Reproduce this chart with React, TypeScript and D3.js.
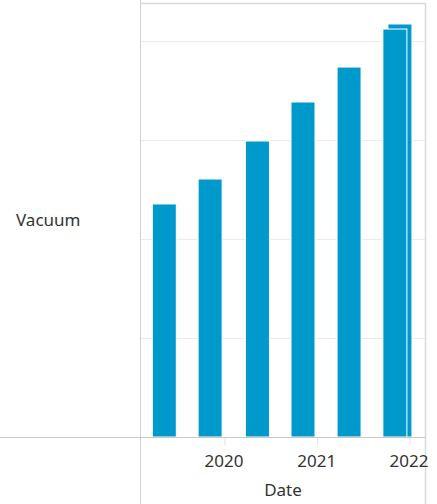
import { useEffect, useRef } from 'react';
import * as d3 from 'd3';

const dates = ['2019-05-06', '2019-11-03', '2020-05-08', '2020-11-04', '2021-05-05', '2021-11-02', '2021-11-22'];
const values = [2.354, 2.606, 2.99, 3.384, 3.737, 4.121, 4.172];
const tickYears = ['2020', '2021', '2022'];
const gridValues = [1, 2, 3, 4];
const rowLabel = 'Vacuum';
const xTitle = 'Date';

export default function App() {
  const svgRef = useRef<SVGSVGElement>(null);

  useEffect(() => {
    if (!svgRef.current) return;
    const svg = d3.select(svgRef.current);
    svg.selectAll('*').remove();

    const height = 504;
    const left = 140;
    const right = 425;
    const top = 3;
    const base = 437;
    const font = "'Noto Sans', 'Open Sans', sans-serif";

    const parse = d3.timeParse('%Y-%m-%d');
    const x = d3.scaleTime()
      .domain([parse('2019-01-30')!, parse('2022-03-01')!])
      .range([left, right]);

    const y = d3.scaleLinear().domain([0, 4.384]).range([base, top]);

    // Grid
    svg.append('g')
      .selectAll('line')
      .data(gridValues)
      .enter()
      .append('line')
      .attr('x1', left)
      .attr('x2', right)
      .attr('y1', d => y(d) + 0.5)
      .attr('y2', d => y(d) + 0.5)
      .attr('stroke', '#ebebeb');

    // Frame
    svg.append('line').attr('x1', left + 0.5).attr('x2', left + 0.5).attr('y1', 0).attr('y2', height).attr('stroke', '#d0d0d0');
    svg.append('line').attr('x1', right + 0.5).attr('x2', right + 0.5).attr('y1', top).attr('y2', height).attr('stroke', '#dadada').attr('stroke-width', 1.5);
    svg.append('line').attr('x1', left).attr('x2', right).attr('y1', top + 0.5).attr('y2', top + 0.5).attr('stroke', '#dadada').attr('stroke-width', 1.5);

    // Bars (later dates drawn first so overlapping bar sits behind)
    const barW = 24;
    const bars = values.map((v, i) => ({ v, d: parse(dates[i])! }))
      .sort((a, b) => d3.descending(a.d, b.d));
    svg.append('g')
      .selectAll('rect')
      .data(bars)
      .enter()
      .append('rect')
      .attr('x', d => x(d.d) - barW / 2)
      .attr('y', d => y(d.v))
      .attr('width', barW)
      .attr('height', d => base - y(d.v))
      .attr('fill', '#0099cb')
      .attr('stroke', '#ffffff')
      .attr('stroke-width', 1);

    // Baseline
    svg.append('line').attr('x1', 0).attr('x2', right).attr('y1', base + 0.5).attr('y2', base + 0.5).attr('stroke', '#c8c8c8');

    // Ticks
    const tickG = svg.append('g');
    tickYears.forEach(t => {
      const tx = x(parse(`${t}-01-01`)!);
      tickG.append('line')
        .attr('x1', tx).attr('x2', tx)
        .attr('y1', base + 1).attr('y2', base + 8)
        .attr('stroke', '#e2e2e2');
      tickG.append('text')
        .attr('x', tx - 1)
        .attr('y', 467)
        .attr('text-anchor', 'middle')
        .attr('font-family', font)
        .attr('font-size', 17)
        .attr('fill', '#333')
        .text(t);
    });

    svg.append('text')
      .attr('x', 283)
      .attr('y', 496)
      .attr('text-anchor', 'middle')
      .attr('font-family', font)
      .attr('font-size', 17)
      .attr('fill', '#333')
      .text(xTitle);

    svg.append('text')
      .attr('x', 16)
      .attr('y', 226)
      .attr('font-family', font)
      .attr('font-size', 17)
      .attr('fill', '#333')
      .text(rowLabel);
  }, []);

  return (
    <div style={{ position: 'absolute', left: 0, top: 0 }}>
      <svg ref={svgRef} width={437} height={504} style={{ display: 'block', background: '#fff' }} />
    </div>
  );
}
